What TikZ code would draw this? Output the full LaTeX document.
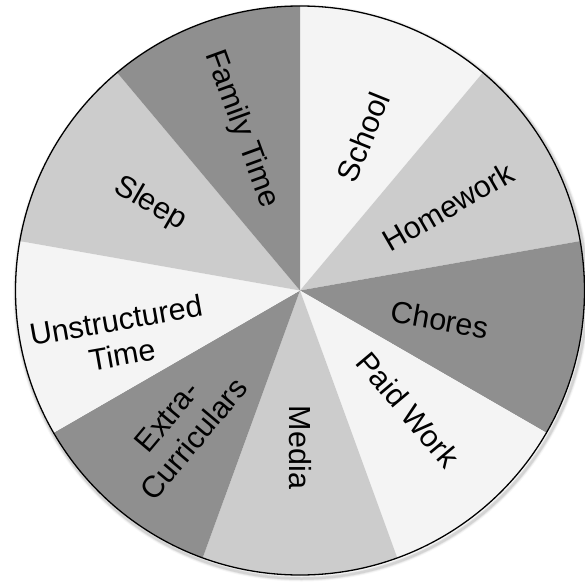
\documentclass[tikz,border=0pt]{standalone}
\usepackage{fontspec}
\setmainfont{Liberation Sans}
\definecolor{cdark}{HTML}{8F8F8F}
\definecolor{clight}{HTML}{CCCCCC}
\definecolor{cpale}{HTML}{F4F4F4}
\tikzset{
  lbl/.style={font=\fontsize{30.5}{35}\selectfont, align=center, inner sep=0pt, text=black},
}
\begin{document}
\begin{tikzpicture}[x=1pt,y=1pt]
\useasboundingbox (-300,-292.5) rectangle (285,290.5);
\def\R{284.5}
% shadow
\foreach \o/\w in {0.06/6,0.1/4,0.15/2.5}{
  \draw[black!60, opacity=\o, line width=\w] (1.5,-2.5) circle (\R+1);
}
% sectors
\coordinate (c) at (0,0);
\fill[cpale]  (c) -- (90:\R) arc (90:50:\R) -- cycle;
\fill[clight] (c) -- (50:\R) arc (50:10:\R) -- cycle;
\fill[cdark]  (c) -- (10:\R) arc (10:-30:\R) -- cycle;
\fill[cpale]  (c) -- (-30:\R) arc (-30:-70:\R) -- cycle;
\fill[clight] (c) -- (-70:\R) arc (-70:-110:\R) -- cycle;
\fill[cdark]  (c) -- (-110:\R) arc (-110:-150:\R) -- cycle;
\fill[cpale]  (c) -- (-150:\R) arc (-150:-190:\R) -- cycle;
\fill[clight] (c) -- (170:\R) arc (170:130:\R) -- cycle;
\fill[cdark]  (c) -- (130:\R) arc (130:90:\R) -- cycle;
\draw[black, line width=1.3pt] (c) circle (\R);
% labels
\node[lbl, rotate=68]  (school) at (67.6:166) {School};
\node[lbl, rotate=30]  (homework) at (29.5:170) {Homework};
\node[lbl, rotate=-10] (chores) at (-11.7:143) {Chores};
\node[lbl, rotate=-50] (paid) at (-47.8:161) {Paid Work};
\node[lbl, rotate=-90] (media) at (-90:157) {Media};
\node[lbl, rotate=50]  (extra) at (-131:182) {Extra-\\Curriculars};
\node[lbl, rotate=10]  (unstr) at (-165.5:187) {Unstructured\\Time};
\node[lbl, rotate=-30] (sleep) at (150:173) {Sleep};
\node[lbl, rotate=-70] (family) at (110:172) {Family Time};
\end{tikzpicture}
\end{document}
